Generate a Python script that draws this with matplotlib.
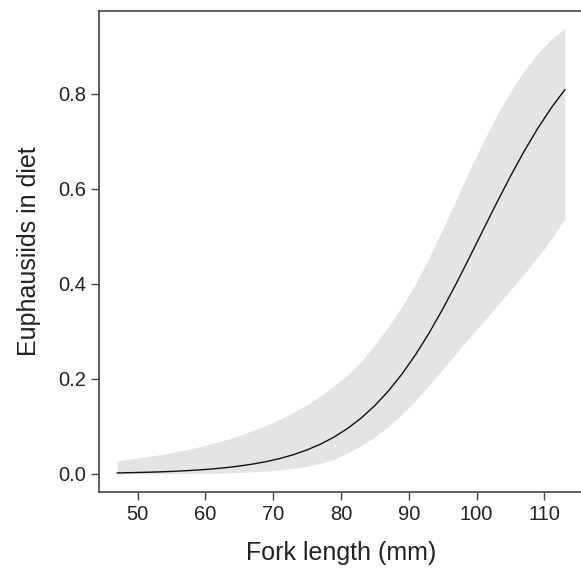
import matplotlib
matplotlib.use("Agg")
import matplotlib.pyplot as plt

plt.rcParams['font.family'] = ['Liberation Sans', 'DejaVu Sans']

fork_length = [47, 49, 51, 53, 55, 57, 59, 61, 63, 65, 67, 69, 71, 73, 75, 77,
               79, 81, 83, 85, 87, 89, 91, 93, 95, 97, 99, 101, 103, 105, 107,
               109, 111, 113]
fit = [0.0021, 0.0027, 0.0034, 0.0042, 0.0053, 0.0067, 0.0084, 0.0105, 0.0132,
       0.0166, 0.0208, 0.0260, 0.0325, 0.0406, 0.0506, 0.0628, 0.0778, 0.0960,
       0.1179, 0.1440, 0.1747, 0.2104, 0.2511, 0.2968, 0.3470, 0.4007, 0.4570,
       0.5144, 0.5714, 0.6266, 0.6787, 0.7266, 0.7698, 0.8081]
upper = [0.0277, 0.0312, 0.0352, 0.0397, 0.0448, 0.0504, 0.0568, 0.0639,
         0.0720, 0.0810, 0.0912, 0.1025, 0.1153, 0.1297, 0.1458, 0.1645,
         0.1855, 0.2085, 0.2370, 0.2720, 0.3100, 0.3520, 0.4000, 0.4550,
         0.5150, 0.5780, 0.6400, 0.7000, 0.7550, 0.8050, 0.8480, 0.8850,
         0.9140, 0.9370]
lower = [0.0002, 0.0002, 0.0003, 0.0004, 0.0006, 0.0009, 0.0012, 0.0017,
         0.0023, 0.0032, 0.0045, 0.0062, 0.0086, 0.0119, 0.0164, 0.0225,
         0.0310, 0.0440, 0.0600, 0.0780, 0.1000, 0.1260, 0.1550, 0.1870,
         0.2200, 0.2540, 0.2880, 0.3200, 0.3530, 0.3870, 0.4210, 0.4560,
         0.4940, 0.5370]
x_ticks = [50, 60, 70, 80, 90, 100, 110]
y_ticks = [0.0, 0.2, 0.4, 0.6, 0.8]

fig = plt.figure(figsize=(5.81, 5.68), dpi=100)
ax = fig.add_axes([0.171, 0.1343, 0.832, 0.8467])

ax.fill_between(fork_length, lower, upper, color='#e3e4e6', linewidth=0)
ax.plot(fork_length, fit, color='#111111', linewidth=1.0)

ax.set_xlim(44.36, 115.64)
ax.set_ylim(-0.0374, 0.974)
ax.set_xticks(x_ticks)
ax.set_yticks(y_ticks)
ax.set_yticklabels([f"{v:.1f}" for v in y_ticks])

for s in ax.spines.values():
    s.set_color('#444444')
    s.set_linewidth(1.2)
ax.spines['right'].set_visible(False)

ax.tick_params(axis='both', colors='#444444', labelcolor='#222222',
               labelsize=14.5, length=5.5, width=1.0, pad=4)

ax.set_xlabel("Fork length (mm)", fontsize=18, color='#222222', labelpad=12)
ax.set_ylabel("Euphausiids in diet", fontsize=18, color='#222222', labelpad=12)

fig.savefig("out.png", dpi=100)
